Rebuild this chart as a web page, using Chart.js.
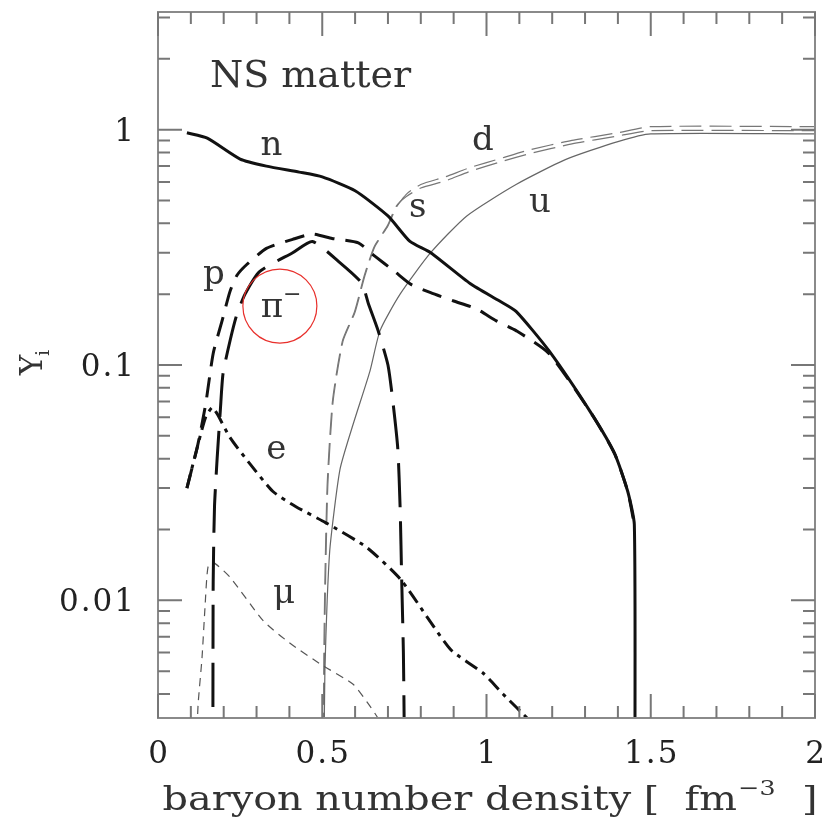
<!DOCTYPE html>
<html>
<head>
<meta charset="utf-8">
<script src="https://cdn.jsdelivr.net/npm/chart.js@4.4.0/dist/chart.umd.min.js"></script>
<style>
  html, body { margin: 0; padding: 0; background: #fff; }
  #wrap { width: 831px; height: 828px; }
</style>
</head>
<body>
<div id="wrap"><canvas id="chart" width="831" height="828"></canvas></div>
<script>
// particle fractions Y_i vs baryon number density (fm^-3)
const nX = [0.088, 0.15, 0.25, 0.33, 0.43, 0.5, 0.6, 0.7, 0.767, 0.83, 0.95, 1.04, 1.09, 1.19, 1.32, 1.39, 1.43, 1.45, 1.452];
const nY = [0.97, 0.92, 0.75, 0.70, 0.66, 0.63, 0.55, 0.43, 0.335, 0.30, 0.222, 0.187, 0.169, 0.115, 0.062, 0.042, 0.029, 0.021, 0.002];

const pX = [0.088, 0.12, 0.145, 0.168, 0.195, 0.219, 0.24, 0.271, 0.33, 0.41, 0.47, 0.53, 0.61, 0.66, 0.72, 0.77, 0.83, 0.90, 0.97, 1.03, 1.09, 1.19, 1.32, 1.39, 1.43, 1.45];
const pY = [0.030, 0.045, 0.068, 0.112, 0.154, 0.205, 0.24, 0.268, 0.313, 0.342, 0.36, 0.345, 0.33, 0.29, 0.25, 0.22, 0.203, 0.187, 0.173, 0.154, 0.14, 0.112, 0.062, 0.042, 0.029, 0.021];

const piX = [0.167, 0.168, 0.172, 0.18, 0.19, 0.198, 0.22, 0.24, 0.265, 0.31, 0.41, 0.47, 0.55, 0.62, 0.64, 0.67, 0.70, 0.715, 0.73, 0.737, 0.742, 0.747, 0.75];
const piY = [0.002, 0.012, 0.025, 0.040, 0.065, 0.092, 0.128, 0.164, 0.20, 0.25, 0.30, 0.335, 0.275, 0.223, 0.183, 0.14, 0.10, 0.07, 0.044, 0.025, 0.012, 0.006, 0.0025];

const eX = [0.088, 0.12, 0.145, 0.165, 0.18, 0.22, 0.28, 0.35, 0.42, 0.51, 0.635, 0.74, 0.89, 0.99, 1.05, 1.13];
const eY = [0.030, 0.045, 0.060, 0.066, 0.062, 0.049, 0.038, 0.029, 0.025, 0.0214, 0.0168, 0.0122, 0.0062, 0.0049, 0.0040, 0.0031];

const muX = [0.118, 0.122, 0.134, 0.143, 0.152, 0.168, 0.22, 0.32, 0.40, 0.50, 0.594, 0.636, 0.667, 0.68];
const muY = [0.0025, 0.0036, 0.0057, 0.0093, 0.0138, 0.0145, 0.0125, 0.0082, 0.0066, 0.0053, 0.0044, 0.0037, 0.0032, 0.0029];

const uX = [0.505, 0.508, 0.515, 0.524, 0.554, 0.594, 0.645, 0.676, 0.737, 0.83, 0.94, 1.09, 1.24, 1.40, 1.50, 2.0];
const uY = [0.002, 0.005, 0.010, 0.017, 0.036, 0.056, 0.094, 0.14, 0.20, 0.30, 0.43, 0.585, 0.746, 0.89, 0.96, 0.96];

const dX = [0.505, 0.507, 0.51, 0.517, 0.533, 0.563, 0.60, 0.63, 0.66, 0.70, 0.727, 0.758, 0.80, 0.874, 0.95, 1.05, 1.13, 1.26, 1.40, 1.50, 2.0];
const dY = [0.002, 0.006, 0.012, 0.031, 0.070, 0.126, 0.168, 0.24, 0.318, 0.39, 0.472, 0.535, 0.585, 0.63, 0.69, 0.76, 0.82, 0.90, 0.97, 1.03, 1.03];
const sX = [0.503, 0.505, 0.508, 0.515, 0.531, 0.561, 0.598, 0.628, 0.658, 0.698, 0.725, 0.756, 0.80, 0.874, 0.95, 1.05, 1.13, 1.26, 1.40, 1.50, 2.0];
const sY = [0.002, 0.006, 0.012, 0.031, 0.070, 0.126, 0.168, 0.24, 0.318, 0.39, 0.472, 0.52, 0.565, 0.605, 0.665, 0.735, 0.79, 0.87, 0.94, 0.99, 0.99];

const xTicks = [0, 0.5, 1, 1.5, 2];
const xTickText = ['0', '0.5', '1', '1.5', '2'];
const yTicks = [0.01, 0.1, 1];
const yTickText = ['0.01', '0.1', '1'];

const SERIF = '"DejaVu Serif", "Liberation Serif", serif';

// curve labels: [text, x, y(baseline), align, size]
const curveLabels = [
  ['NS matter', 0.158, 1.52, 'left', 38],
  ['n', 0.345, 0.783, 'center', 34],
  ['d', 0.989, 0.823, 'center', 34],
  ['s', 0.791, 0.424, 'center', 34],
  ['u', 1.163, 0.445, 'center', 34],
  ['p', 0.170, 0.220, 'center', 34],
  ['e', 0.360, 0.040, 'center', 34],
  ['\u03bc', 0.384, 0.0097, 'center', 34]
];

function pts(xs, ys) {
  return xs.map((x, i) => ({ x: x, y: ys[i] }));
}

function line(label, xs, ys, color, width, dash) {
  return {
    label: label,
    data: pts(xs, ys),
    borderColor: color,
    borderWidth: width,
    borderDash: dash || [],
    pointRadius: 0,
    showLine: true,
    fill: false,
    tension: 0.2
  };
}

const decor = {
  id: 'decor',
  afterDatasetsDraw(chart) {
    const ctx = chart.ctx;
    const a = chart.chartArea;
    const xs = chart.scales.x, ys = chart.scales.y;
    ctx.save();

    // frame
    ctx.strokeStyle = '#8a8a8a';
    ctx.lineWidth = 2;
    ctx.strokeRect(a.left, a.top, a.right - a.left, a.bottom - a.top);

    // inward ticks on all four sides
    ctx.lineWidth = 2;
    ctx.strokeStyle = '#777';
    for (let i = 0; i <= 20; i++) {
      const v = i / 10;
      const px = xs.getPixelForValue(v);
      const len = (i % 5 === 0) ? 24 : 12;
      ctx.beginPath();
      ctx.moveTo(px, a.bottom); ctx.lineTo(px, a.bottom - len);
      ctx.moveTo(px, a.top); ctx.lineTo(px, a.top + len);
      ctx.stroke();
    }
    for (let d = -3; d <= 0; d++) {
      for (let k = 1; k <= 9; k++) {
        const v = k * Math.pow(10, d);
        if (v < ys.min || v > ys.max) continue;
        const py = ys.getPixelForValue(v);
        const len = (k === 1) ? 24 : 12;
        ctx.beginPath();
        ctx.moveTo(a.left, py); ctx.lineTo(a.left + len, py);
        ctx.moveTo(a.right, py); ctx.lineTo(a.right - len, py);
        ctx.stroke();
      }
    }

    // tick labels
    ctx.fillStyle = '#222';
    ctx.font = '31px ' + SERIF;
    ctx.letterSpacing = '2px';
    ctx.textBaseline = 'alphabetic';
    ctx.textAlign = 'center';
    xTicks.forEach((v, i) => ctx.fillText(xTickText[i], xs.getPixelForValue(v) + 1, a.bottom + 45));
    ctx.textAlign = 'right';
    yTicks.forEach((v, i) => ctx.fillText(yTickText[i], a.left - 22, ys.getPixelForValue(v) + 11));
    ctx.letterSpacing = '0px';

    // curve labels
    ctx.fillStyle = '#333';
    curveLabels.forEach(l => {
      ctx.font = l[4] + 'px ' + SERIF;
      ctx.textAlign = l[3];
      ctx.fillText(l[0], xs.getPixelForValue(l[1]), ys.getPixelForValue(l[2]));
    });

    // pi minus with superscript
    const piPx = xs.getPixelForValue(0.347), piPy = ys.getPixelForValue(0.160);
    ctx.font = '34px ' + SERIF;
    ctx.textAlign = 'center';
    ctx.fillText('\u03c0', piPx, piPy);
    ctx.font = '22px ' + SERIF;
    ctx.textAlign = 'left';
    ctx.fillText('\u2212', piPx + 11, piPy - 16);

    // red circle around pi-
    ctx.strokeStyle = '#e8302c';
    ctx.lineWidth = 1.2;
    ctx.beginPath();
    ctx.arc(xs.getPixelForValue(0.371), ys.getPixelForValue(0.178), 37, 0, Math.PI * 2);
    ctx.stroke();

    // x title with superscript, stretched wide like the original typesetting
    ctx.fillStyle = '#333';
    ctx.textAlign = 'left';
    const big = '33px ' + SERIF, small = '21px ' + SERIF;
    const t1 = 'baryon number density [  fm', t2 = '\u22123', t3 = '  ]';
    ctx.font = big; const w1 = ctx.measureText(t1).width, w3 = ctx.measureText(t3).width;
    ctx.font = small; const w2 = ctx.measureText(t2).width;
    const total = w1 + w2 + w3 + 2;
    const sx = 655 / total;
    ctx.save();
    ctx.translate(490 - 655 / 2, 810);
    ctx.scale(sx, 1);
    ctx.font = big; ctx.fillText(t1, 0, 0);
    ctx.font = small; ctx.fillText(t2, w1 + 1, -15);
    ctx.font = big; ctx.fillText(t3, w1 + w2 + 2, 0);
    ctx.restore();

    // y title Y_i rotated
    ctx.save();
    ctx.translate(42, 365);
    ctx.rotate(-Math.PI / 2);
    ctx.font = '31px ' + SERIF;
    ctx.textAlign = 'center';
    ctx.fillText('Y', 0, 0);
    ctx.font = '19px ' + SERIF;
    ctx.textAlign = 'left';
    ctx.fillText('i', 9, 7);
    ctx.restore();

    ctx.restore();
  }
};

new Chart(document.getElementById('chart'), {
  type: 'scatter',
  data: {
    datasets: [
      line('n', nX, nY, '#111', 3),
      line('p', pX, pY, '#111', 3, [20, 11]),
      line('pi-', piX, piY, '#111', 3, [44, 14]),
      line('e', eX, eY, '#111', 3, [14, 6, 4, 6]),
      line('mu', muX, muY, '#555', 1.2, [8, 6]),
      line('u', uX, uY, '#666', 1.2),
      line('d', dX, dY, '#777', 1.2, [22, 8]),
      line('s', sX, sY, '#777', 1.2, [22, 8])
    ]
  },
  options: {
    responsive: false,
    animation: false,
    devicePixelRatio: 1,
    layout: { padding: { left: 0, right: 16, top: 12, bottom: 0 } },
    plugins: { legend: { display: false }, tooltip: { enabled: false } },
    scales: {
      x: {
        type: 'linear',
        min: 0, max: 2,
        grid: { display: false, drawTicks: false },
        border: { display: false },
        afterFit: s => { s.height = 110; },
        ticks: { display: false }
      },
      y: {
        type: 'logarithmic',
        min: Math.pow(10, -2.5), max: Math.pow(10, 0.5),
        grid: { display: false, drawTicks: false },
        border: { display: false },
        afterFit: s => { s.width = 158; },
        ticks: { display: false }
      }
    }
  },
  plugins: [decor]
});
</script>
</body>
</html>
